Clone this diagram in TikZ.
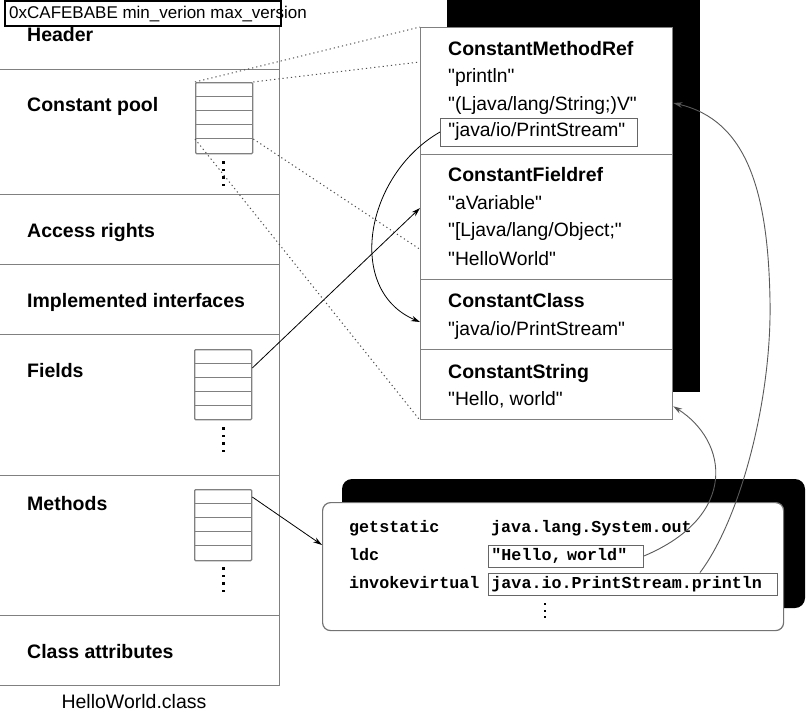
\documentclass[tikz,border=0pt]{standalone}
\usepackage{fontspec}
\setmainfont{Liberation Sans}[Ligatures=TeXOff]
\setmonofont{Liberation Mono}
\usetikzlibrary{arrows.meta}
\begin{document}
\begin{tikzpicture}[x=1pt,y=-1pt,
  boxline/.style={draw=black!50, line width=1.3pt},
  sect/.style={boxline, fill=white, minimum width=252pt, anchor=north west, inner sep=0pt},
  lsect/.style={boxline, minimum width=284pt, anchor=north west, inner sep=0pt},
  lbl/.style={anchor=base west, inner sep=0pt, font=\fontsize{19.5}{22}\selectfont\bfseries},
  txt/.style={anchor=base west, inner sep=0pt, font=\fontsize{19.3}{22}\selectfont},
  codetxt/.style={anchor=base west, inner sep=0pt, font=\fontsize{16.7}{20}\selectfont\ttfamily\bfseries},
  boxed/.style={draw=black!60, line width=0.9pt, anchor=west, inner xsep=8pt, inner ysep=0pt, minimum height=28pt, align=left, font=\fontsize{19.3}{22}\selectfont},
  cbox/.style={draw=black!60, line width=0.9pt, anchor=west, inner xsep=3pt, inner ysep=0pt, minimum height=22pt, align=left, font=\fontsize{16.7}{20}\selectfont\ttfamily\bfseries},
  tbl/.style={boxline, minimum width=57pt, minimum height=71pt, anchor=north west, inner sep=0pt, rounded corners=1pt},
  dotline/.style={draw=black!70, line width=1pt, dash pattern=on 1.2pt off 3pt},
  arr/.style={draw=black, line width=0.8pt, -{Stealth[length=9pt,width=5.5pt]}},
  garr/.style={draw=black!65, line width=0.9pt, -{Stealth[length=9pt,width=5.5pt]}},
]
\useasboundingbox (0,0) rectangle (807,713);

% ---- class file (left) ----
\node[lsect, minimum height=74pt] (header) at (-5,-5) {};
\node[lsect, minimum height=125pt] (cpool) at (-5,69) {};
\node[lsect, minimum height=70pt] (access) at (-5,194) {};
\node[lsect, minimum height=70pt] (impl) at (-5,264) {};
\node[lsect, minimum height=141pt] (fields) at (-5,334) {};
\node[lsect, minimum height=140pt] (methods) at (-5,475) {};
\node[lsect, minimum height=70pt] (cattr) at (-5,615) {};

\node[lbl] (lheader) at (27,41) {Header};
\node[lbl] (lcpool) at (27,111) {Constant pool};
\node[lbl] (laccess) at (27,237) {Access rights};
\node[lbl] (limpl) at (27,307) {Implemented interfaces};
\node[lbl] (lfields) at (27,377) {Fields};
\node[lbl] (lmethods) at (27,510) {Methods};
\node[lbl] (lcattr) at (27,658) {Class attributes};
\node[anchor=base, inner sep=0pt, font=\fontsize{19.5}{22}\selectfont] (caption) at (134,708) {HelloWorld.class};

% tables
\node[tbl] (cptab) at (195,82) {};
\node[tbl, minimum height=70pt] (fieldtab) at (194,349) {};
\node[tbl] (methtab) at (194,489) {};
\foreach \t in {cptab,fieldtab,methtab}{
  \foreach \k in {1,...,4}{
    \draw[boxline] ([yshift={-14.2pt*\k}]\t.north west) -- ([yshift={-14.2pt*\k}]\t.north east);
  }
}
\foreach \y in {161,168.5,176,183.5}{ \fill[black] (222,\y) rectangle (224.5,\y+2.5); }
\foreach \y in {427,434.5,442,449.5}{ \fill[black] (222,\y) rectangle (224.5,\y+2.5); }
\foreach \y in {567,574.5,582,589.5}{ \fill[black] (222,\y) rectangle (224.5,\y+2.5); }

% magic header label
\node[draw=black, line width=2.2pt, fill=white, minimum width=276pt, minimum height=25pt, inner sep=0pt] (magicbox) at (143,13.5) {};
\node[anchor=base west, inner sep=0pt, font=\fontsize{17}{20}\selectfont] (magic) at (9,18.5) {0xCAFEBABE min\_verion max\_version};

% ---- constant pool (right) ----
\fill[black] (447,-5) rectangle (700,392);
\node[sect, minimum height=127pt] (mref) at (420,27) {};
\node[sect, minimum height=125pt] (fref) at (420,154) {};
\node[sect, minimum height=70pt] (cclass) at (420,279) {};
\node[sect, minimum height=70pt] (cstr) at (420,349) {};

\node[lbl] (tmref) at (448,55) {ConstantMethodRef};
\node[txt] (tprintln) at (448,82) {"println"};
\node[txt] (tsig) at (448,110) {"(Ljava/lang/String;)V"};
\node[boxed, text width=181pt] (jps) at (440,132) {"java/io/PrintStream"};
\node[lbl] (tfref) at (448,181) {ConstantFieldref};
\node[txt] (tavar) at (448,209) {"aVariable"};
\node[txt] (tobj) at (448,236) {"[Ljava/lang/Object;"};
\node[txt] (thw) at (448,265) {"HelloWorld"};
\node[lbl] (tcclass) at (448,307) {ConstantClass};
\node[txt] (tps) at (448,335) {"java/io/PrintStream"};
\node[lbl] (tcstr) at (448,378) {ConstantString};
\node[txt] (thello) at (448,405) {"Hello, world"};

% ---- bytecode box ----
\fill[black, rounded corners=10pt] (342,479) rectangle (805,608);
\node[draw=black!55, line width=1.2pt, fill=white, rounded corners=8pt, minimum width=461pt, minimum height=128pt, anchor=north west, inner sep=0pt] (codebox) at (322,502) {};
\node[codetxt] (cget) at (349,532) {getstatic};
\node[codetxt] (cldc) at (349,560) {ldc};
\node[codetxt] (cinv) at (349,588) {invokevirtual};
\node[codetxt] (cout) at (491,532) {java.lang.System.out};
\node[cbox, text width=149pt] (hw) at (488,556) {"Hello, world"};
\node[cbox, text width=283pt] (pp) at (488,584) {java.io.PrintStream.println};
\foreach \y in {603,609.5,616}{ \fill[black] (544,\y) rectangle (546.2,\y+2.2); }

% ---- connectors ----
\coordinate (cp4e) at ([yshift=-57pt]cptab.north east);
\coordinate (cp4w) at ([yshift=-57pt]cptab.north west);
\draw[dotline] (cptab.north west) -- (mref.north west);
\draw[dotline] (cptab.north east) -- ([yshift=-35pt]mref.north west);
\draw[dotline] (cp4e) -- ([yshift=31pt]fref.south west);
\draw[dotline] (cp4w) -- (cstr.south west);

\draw[arr] ([yshift=-19pt]fieldtab.north east) -- ([yshift=-54pt]fref.north west);
\draw[arr] ([yshift=-8pt]methtab.north east) -- ([yshift=-43pt]codebox.north west);
\draw[arr] (jps.west) .. controls +(-75,43) and +(-75,-32) .. ([yshift=-43pt]cclass.north west);

\coordinate (m1) at (770,300);
\draw[garr] (hw.east) .. controls +(95,-40) and +(55,35) .. ([yshift=14pt]cstr.south east);
\draw[garr] ([xshift=212pt]pp.north west) .. controls +(40,-53) and +(2,100) .. (m1) .. controls +(-2,-110) and +(73,17) .. ([yshift=-76pt]mref.north east);
\end{tikzpicture}
\end{document}
